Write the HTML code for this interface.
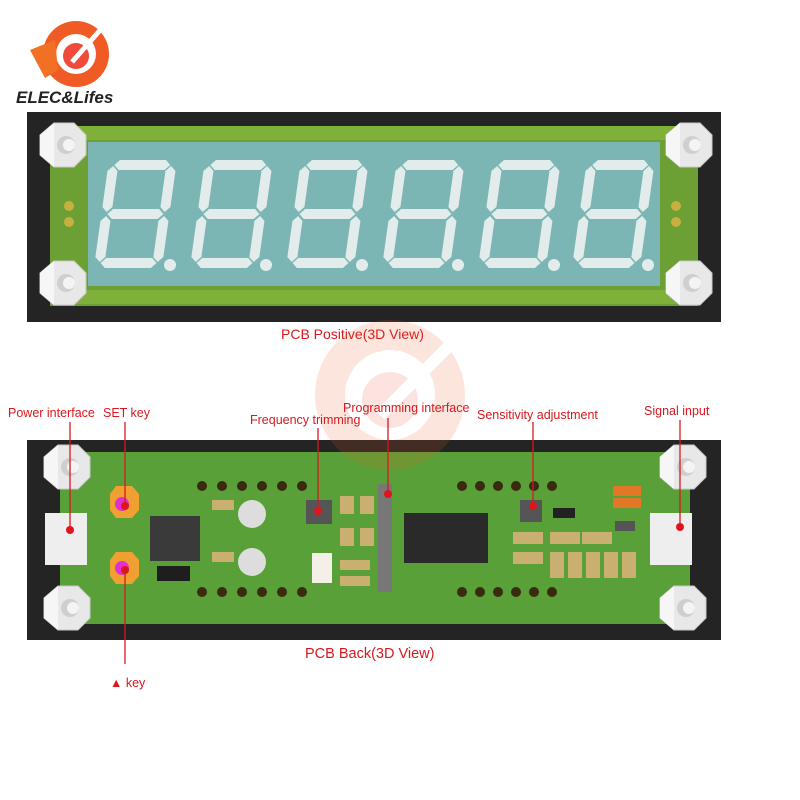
<!DOCTYPE html>
<html><head><meta charset="utf-8"><style>
html,body{margin:0;padding:0;background:#fff;width:800px;height:800px;overflow:hidden}
svg{display:block}
text{font-family:"Liberation Sans","DejaVu Sans",sans-serif;fill:#d8181e}
</style></head><body>
<svg width="800" height="800" viewBox="0 0 800 800" xmlns="http://www.w3.org/2000/svg">
<defs>
<g id="nut">
  <polygon points="-22,-10 -8,-22 12,-22 24,-10 24,10 12,22 -8,22 -22,10" fill="#e8e8e8" stroke="#c8c8c8"/>
  <polygon points="-22,-10 -8,-22 -8,22 -22,10" fill="#f6f6f6"/>
  <circle cx="4" cy="0" r="9" fill="#cfcfcf"/><circle cx="7" cy="0" r="6" fill="#f4f4f4"/>
</g>
<g id="digit" fill="#e2ecea">
  <g transform="skewX(-8) translate(12,0)">
  <polygon points="5,5 10,0 56,0 61,5 56,10 10,10"/>
  <polygon points="5,54 10,49 56,49 61,54 56,59 10,59"/>
  <polygon points="5,103 10,98 56,98 61,103 56,108 10,108"/>
  <polygon points="4,6 9,11 9,47 4,52 -1,47 -1,11"/>
  <polygon points="62,6 67,11 67,47 62,52 57,47 57,11"/>
  <polygon points="4,56 9,61 9,97 4,102 -1,97 -1,61"/>
  <polygon points="62,56 67,61 67,97 62,102 57,97 57,61"/>
  </g>
  <circle cx="72" cy="105" r="6"/>
</g>
</defs>

<!-- logo -->
<circle cx="76" cy="54" r="33" fill="#f05a24"/>
<circle cx="76" cy="54" r="20" fill="#fff"/>
<circle cx="76" cy="56" r="13" fill="#f04a3a"/>
<polygon points="30,50 55,40 58,70 45,78" fill="#f27024"/>
<line x1="72" y1="62" x2="102" y2="28" stroke="#fff" stroke-width="5"/>
<text x="16" y="103" font-size="17" font-weight="bold" font-style="italic" style="fill:#222">ELEC&amp;Lifes</text>

<!-- top board -->
<rect x="27" y="112" width="694" height="210" fill="#242424"/>
<rect x="50" y="126" width="648" height="180" fill="#6da034"/>
<rect x="50" y="126" width="648" height="14" fill="#7fb03a"/>
<rect x="50" y="290" width="648" height="14" fill="#7fb03a"/>
<rect x="88" y="142" width="572" height="144" fill="#7bb6b4"/>
<use href="#digit" x="98" y="160"/>
<use href="#digit" x="194" y="160"/>
<use href="#digit" x="290" y="160"/>
<use href="#digit" x="386" y="160"/>
<use href="#digit" x="482" y="160"/>
<use href="#digit" x="576" y="160"/>
<circle cx="69" cy="206" r="5" fill="#c8b040"/><circle cx="69" cy="222" r="5" fill="#c8b040"/>
<circle cx="676" cy="206" r="5" fill="#c8b040"/><circle cx="676" cy="222" r="5" fill="#c8b040"/>
<use href="#nut" x="62" y="145"/><use href="#nut" x="62" y="283"/>
<use href="#nut" x="688" y="145"/><use href="#nut" x="688" y="283"/>
<text x="281" y="339" font-size="14">PCB  Positive(3D View)</text>

<!-- bottom board -->
<rect x="27" y="440" width="694" height="200" fill="#242424"/>
<rect x="60" y="452" width="630" height="172" fill="#5aa038"/>
<g fill="#3a2a10">
<circle cx="202" cy="486" r="5"/><circle cx="222" cy="486" r="5"/><circle cx="242" cy="486" r="5"/><circle cx="262" cy="486" r="5"/><circle cx="282" cy="486" r="5"/><circle cx="302" cy="486" r="5"/>
<circle cx="202" cy="592" r="5"/><circle cx="222" cy="592" r="5"/><circle cx="242" cy="592" r="5"/><circle cx="262" cy="592" r="5"/><circle cx="282" cy="592" r="5"/><circle cx="302" cy="592" r="5"/>
<circle cx="462" cy="486" r="5"/><circle cx="480" cy="486" r="5"/><circle cx="498" cy="486" r="5"/><circle cx="516" cy="486" r="5"/><circle cx="534" cy="486" r="5"/><circle cx="552" cy="486" r="5"/>
<circle cx="462" cy="592" r="5"/><circle cx="480" cy="592" r="5"/><circle cx="498" cy="592" r="5"/><circle cx="516" cy="592" r="5"/><circle cx="534" cy="592" r="5"/><circle cx="552" cy="592" r="5"/>
</g>
<polygon points="110,494 116,486 132,486 139,494 139,510 132,518 116,518 110,510" fill="#f0a030"/>
<circle cx="122" cy="504" r="7" fill="#e030d0"/>
<polygon points="110,560 116,552 132,552 139,560 139,576 132,584 116,584 110,576" fill="#f0a030"/>
<circle cx="122" cy="568" r="7" fill="#e030d0"/>
<rect x="150" y="516" width="50" height="45" fill="#3a3a3a"/>
<rect x="157" y="566" width="33" height="15" fill="#1e1e1e"/>
<circle cx="252" cy="514" r="14" fill="#ddd"/><circle cx="252" cy="562" r="14" fill="#ddd"/>
<rect x="306" y="500" width="26" height="24" fill="#555"/>
<rect x="312" y="553" width="20" height="30" fill="#f4f0e8"/>
<rect x="378" y="484" width="14" height="108" fill="#777"/>
<rect x="404" y="513" width="84" height="50" fill="#2a2a2a"/>
<rect x="520" y="500" width="22" height="22" fill="#555"/>
<rect x="553" y="508" width="22" height="10" fill="#222"/>
<rect x="613" y="486" width="28" height="10" fill="#e07828"/><rect x="613" y="498" width="28" height="10" fill="#e07828"/>
<rect x="615" y="521" width="20" height="10" fill="#555"/>
<g fill="#c9b070">
<rect x="340" y="496" width="14" height="18"/><rect x="360" y="496" width="14" height="18"/>
<rect x="340" y="528" width="14" height="18"/><rect x="360" y="528" width="14" height="18"/>
<rect x="340" y="560" width="30" height="10"/><rect x="340" y="576" width="30" height="10"/>
<rect x="513" y="532" width="30" height="12"/><rect x="550" y="532" width="30" height="12"/><rect x="582" y="532" width="30" height="12"/>
<rect x="513" y="552" width="30" height="12"/><rect x="550" y="552" width="14" height="26"/><rect x="568" y="552" width="14" height="26"/><rect x="586" y="552" width="14" height="26"/><rect x="604" y="552" width="14" height="26"/><rect x="622" y="552" width="14" height="26"/>
<rect x="212" y="500" width="22" height="10"/><rect x="212" y="552" width="22" height="10"/>
</g>
<rect x="45" y="513" width="42" height="52" fill="#eeeeee"/>
<rect x="650" y="513" width="42" height="52" fill="#eeeeee"/>
<use href="#nut" x="66" y="467"/><use href="#nut" x="66" y="608"/>
<use href="#nut" x="682" y="467"/><use href="#nut" x="682" y="608"/>

<!-- watermark -->
<g opacity="0.15">
<circle cx="390" cy="395" r="75" fill="#f05a24"/>
<circle cx="390" cy="395" r="45" fill="#fff"/>
<circle cx="390" cy="400" r="28" fill="#f04a3a"/>
<line x1="380" y1="415" x2="450" y2="345" stroke="#fff" stroke-width="12"/>
</g>

<!-- callouts -->
<g stroke="#d8181e" stroke-width="1.3">
<line x1="70" y1="422" x2="70" y2="530"/>
<line x1="125" y1="422" x2="125" y2="506"/>
<line x1="125" y1="570" x2="125" y2="664"/>
<line x1="318" y1="428" x2="318" y2="511"/>
<line x1="388" y1="418" x2="388" y2="494"/>
<line x1="533" y1="422" x2="533" y2="506"/>
<line x1="680" y1="420" x2="680" y2="527"/>
</g>
<g fill="#e0141c">
<circle cx="70" cy="530" r="4"/><circle cx="125" cy="506" r="4"/><circle cx="125" cy="570" r="4"/>
<circle cx="318" cy="511" r="4"/><circle cx="388" cy="494" r="4"/><circle cx="533" cy="506" r="4"/><circle cx="680" cy="527" r="4"/>
</g>
<g font-size="12.5">
<text x="8" y="417">Power interface</text>
<text x="103" y="417">SET  key</text>
<text x="250" y="424">Frequency trimming</text>
<text x="343" y="412">Programming interface</text>
<text x="477" y="419">Sensitivity adjustment</text>
<text x="644" y="415">Signal input</text>
<text x="110" y="687">▲ key</text>
</g>
<text x="305" y="658" font-size="14.5">PCB  Back(3D  View)</text>
</svg>
</body></html>
